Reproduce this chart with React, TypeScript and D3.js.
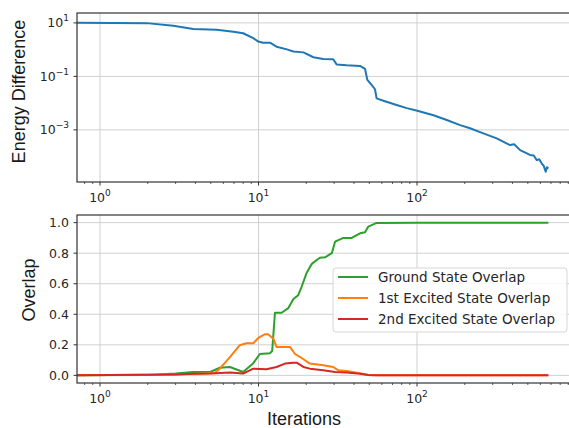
import React, { useEffect, useRef } from 'react';
import * as d3 from 'd3';

// ---- data ----

const energyDiff: [number, number][] = [
  [0.716, 10.2], [1.97, 9.8], [2.9, 7.8], [3.88, 5.95], [5.45, 5.5], [6.94, 4.7],
  [8.0, 4.1], [9.27, 2.7], [9.97, 2.0], [10.7, 1.82], [11.8, 1.82], [13.0, 1.29],
  [15.1, 1.02], [16.6, 0.85], [19.2, 0.79], [22.2, 0.52], [25.6, 0.45], [29.6, 0.44],
  [31.1, 0.28], [36, 0.26], [43.7, 0.245], [47, 0.19], [48.6, 0.074], [51.7, 0.048],
  [54.3, 0.033], [55.6, 0.015], [61.3, 0.0123], [74.4, 0.0085], [86.1, 0.0065],
  [100.4, 0.0052], [127, 0.0035], [154, 0.00234], [187, 0.0015], [216, 0.00115],
  [262, 0.00074], [318, 0.00048], [386, 0.00027], [410, 0.00029], [447, 0.000174],
  [516, 0.000115], [545, 0.00011], [569, 0.000074], [590, 0.00008], [611, 0.000056],
  [630, 0.000045], [648, 0.000027], [660, 0.00004], [674, 0.000036]
];

const groundOverlap: [number, number][] = [
  [0.716, 0], [2, 0.003], [3, 0.012], [3.88, 0.022], [4.95, 0.022], [5.7, 0.05],
  [6.6, 0.055], [8.0, 0.022], [9.27, 0.08], [10.2, 0.14], [11.8, 0.145], [12.2, 0.16],
  [12.7, 0.41], [14.0, 0.41], [15.4, 0.44], [16.6, 0.5], [17.8, 0.525], [18.7, 0.58],
  [20.1, 0.67], [21.7, 0.73], [23.3, 0.755], [24.4, 0.77], [26.3, 0.773], [29, 0.8],
  [30.4, 0.875], [31.9, 0.886], [34.3, 0.9], [38.7, 0.9], [43.7, 0.93], [47, 0.937],
  [49.3, 0.974], [55.6, 0.998], [100, 1.0], [674, 1.0]
];

const firstExcited: [number, number][] = [
  [0.716, 0], [3, 0.005], [4.5, 0.012], [5.3, 0.015], [5.7, 0.044], [6.6, 0.12],
  [7.6, 0.197], [8.4, 0.21], [9.27, 0.21], [9.97, 0.245], [11.0, 0.27], [11.5, 0.27],
  [12.4, 0.24], [13.0, 0.186], [15.8, 0.186], [17.0, 0.14], [18.3, 0.12], [21.1, 0.077],
  [25.6, 0.066], [29.6, 0.055], [31.9, 0.033], [36, 0.028], [41.6, 0.018], [49.3, 0.002],
  [55, 0], [674, 0]
];

const secondExcited: [number, number][] = [
  [0.716, 0], [3, 0.005], [3.88, 0.01], [5, 0.012], [6.6, 0.018], [8.0, 0.012],
  [9.27, 0.044], [11.2, 0.04], [13, 0.055], [14.7, 0.077], [16.6, 0.083], [17.4, 0.083],
  [19.2, 0.055], [21.1, 0.044], [25.6, 0.033], [30.4, 0.022], [36, 0.018], [43.7, 0.011],
  [49.3, 0.002], [55, 0], [674, 0]
];

const xMajor = [1, 10, 100];
const energyExps = [1, -1, -3];
const overlapTicks = [0, 0.2, 0.4, 0.6, 0.8, 1.0];
const legendLabels = ['Ground State Overlap', '1st Excited State Overlap', '2nd Excited State Overlap'];
const overlapSeries = [groundOverlap, firstExcited, secondExcited];
const seriesColors = ['#2ca02c', '#ff7f0e', '#d62728'];

// ====

const W = 569;
const H = 428;
const TICK_FONT = 'DejaVu Sans, sans-serif';
const LABEL_FONT = 'Liberation Sans, Arial, sans-serif';
const INK = '#262626';

const supText = (sel: any, exp: number) => {
  sel.append('tspan').text('10');
  sel.append('tspan')
    .attr('dy', -6)
    .attr('font-size', 9)
    .text(exp < 0 ? `\u2212${-exp}` : `${exp}`);
};

function drawFrame(g: any, x: any, top: number, bottom: number) {
  // vertical grid
  g.selectAll('.vgrid').data(xMajor).enter().append('line')
    .attr('x1', (d: number) => x(d)).attr('x2', (d: number) => x(d))
    .attr('y1', top).attr('y2', bottom)
    .attr('stroke', '#d0d0d0').attr('stroke-width', 1);

  // minor x ticks
  const minors: number[] = [];
  [0.1, 1, 10, 100].forEach((dec) => {
    for (let k = 2; k <= 9; k++) {
      const v = k * dec;
      if (v > x.domain()[0] && v < x.domain()[1]) minors.push(v);
    }
  });
  g.selectAll('.minor').data(minors).enter().append('line')
    .attr('x1', (d: number) => x(d)).attr('x2', (d: number) => x(d))
    .attr('y1', bottom).attr('y2', bottom + 2)
    .attr('stroke', '#333').attr('stroke-width', 0.8);

  // major x ticks + labels
  g.selectAll('.major').data(xMajor).enter().append('line')
    .attr('x1', (d: number) => x(d)).attr('x2', (d: number) => x(d))
    .attr('y1', bottom).attr('y2', bottom + 3.5)
    .attr('stroke', '#333').attr('stroke-width', 1);

  xMajor.forEach((v, i) => {
    const t = g.append('text')
      .attr('x', x(v)).attr('y', bottom + 20)
      .attr('text-anchor', 'middle')
      .attr('font-family', TICK_FONT).attr('font-size', 12.5)
      .attr('fill', INK);
    supText(t, i);
  });
}

function drawSpines(g: any, left: number, right: number, top: number, bottom: number) {
  g.append('rect')
    .attr('x', left).attr('y', top)
    .attr('width', right - left).attr('height', bottom - top)
    .attr('fill', 'none').attr('stroke', '#333').attr('stroke-width', 1.2);
}

const App = () => {
  const node = useRef<SVGSVGElement | null>(null);

  useEffect(() => {
    const svg = d3.select(node.current);
    svg.selectAll('*').remove();

    const left = 77;
    const right = 570;

    // ---- top panel: energy difference ----
    const t0 = 13, t1 = 182;
    const x1 = d3.scaleLog().domain([Math.pow(10, -0.145), Math.pow(10, 2.965)]).range([left, right]);
    const yE = d3.scaleLog().domain([Math.pow(10, -4.95), Math.pow(10, 1.37)]).range([t1, t0]);

    const gTop = svg.append('g');
    gTop.selectAll('.hgrid').data(energyExps).enter().append('line')
      .attr('x1', left).attr('x2', right)
      .attr('y1', (d: number) => yE(Math.pow(10, d))).attr('y2', (d: number) => yE(Math.pow(10, d)))
      .attr('stroke', '#d0d0d0').attr('stroke-width', 1);
    drawFrame(gTop, x1, t0, t1);

    energyExps.forEach((e) => {
      const yy = yE(Math.pow(10, e));
      gTop.append('line').attr('x1', left - 3.5).attr('x2', left)
        .attr('y1', yy).attr('y2', yy).attr('stroke', '#333');
      const t = gTop.append('text')
        .attr('x', left - 8).attr('y', yy + 4.5)
        .attr('text-anchor', 'end')
        .attr('font-family', TICK_FONT).attr('font-size', 12.5)
        .attr('fill', INK);
      supText(t, e);
    });

    const lineE = d3.line<[number, number]>()
      .x((d) => x1(d[0]))
      .y((d) => yE(d[1]));
    gTop.append('path')
      .datum(energyDiff)
      .attr('d', lineE)
      .attr('fill', 'none').attr('stroke', '#1f77b4').attr('stroke-width', 2)
      .attr('stroke-linejoin', 'round');
    drawSpines(gTop, left, right, t0, t1);

    gTop.append('text')
      .attr('transform', `translate(24.5, ${(t0 + t1) / 2 - 6}) rotate(-90)`)
      .attr('text-anchor', 'middle')
      .attr('font-family', LABEL_FONT).attr('font-size', 18)
      .attr('fill', '#1a1a1a')
      .text('Energy Difference');

    // ---- bottom panel: overlaps ----
    const b0 = 215, b1 = 383;
    const x2 = d3.scaleLog().domain(x1.domain()).range([left, right]);
    const yO = d3.scaleLinear().domain([-0.05, 1.05]).range([b1, b0]);

    const gBot = svg.append('g');
    gBot.selectAll('.hgrid').data(overlapTicks).enter().append('line')
      .attr('x1', left).attr('x2', right)
      .attr('y1', (d: number) => yO(d)).attr('y2', (d: number) => yO(d))
      .attr('stroke', '#d0d0d0').attr('stroke-width', 1);
    drawFrame(gBot, x2, b0, b1);

    gBot.selectAll('.ytick').data(overlapTicks).enter().append('line')
      .attr('x1', left - 3.5).attr('x2', left)
      .attr('y1', (d: number) => yO(d)).attr('y2', (d: number) => yO(d))
      .attr('stroke', '#333');
    gBot.selectAll('.ylab').data(overlapTicks).enter().append('text')
      .attr('x', left - 8).attr('y', (d: number) => yO(d) + 4.5)
      .attr('text-anchor', 'end')
      .attr('font-family', TICK_FONT).attr('font-size', 12.5)
      .attr('fill', INK)
      .text((d: number) => d3.format('.1f')(d));

    const lineO = d3.line<[number, number]>()
      .x((d) => x2(d[0]))
      .y((d) => yO(d[1]));
    overlapSeries.forEach((s, i) => {
      gBot.append('path')
        .datum(s)
        .attr('d', lineO)
        .attr('fill', 'none').attr('stroke', seriesColors[i]).attr('stroke-width', 2)
        .attr('stroke-linejoin', 'round');
    });
    drawSpines(gBot, left, right, b0, b1);

    gBot.append('text')
      .attr('transform', `translate(34.5, 290) rotate(-90)`)
      .attr('text-anchor', 'middle')
      .attr('font-family', LABEL_FONT).attr('font-size', 18)
      .attr('fill', '#1a1a1a')
      .text('Overlap');

    gBot.append('text')
      .attr('x', 304).attr('y', 425)
      .attr('text-anchor', 'middle')
      .attr('font-family', LABEL_FONT).attr('font-size', 18)
      .attr('fill', '#1a1a1a')
      .text('Iterations');

    // legend
    const lg = gBot.append('g').attr('transform', 'translate(333, 268)');
    lg.append('rect')
      .attr('width', 234).attr('height', 64).attr('rx', 3)
      .attr('fill', 'white').attr('fill-opacity', 0.85)
      .attr('stroke', '#d6d6d6');
    legendLabels.forEach((lab, i) => {
      const yy = 9 + i * 21;
      lg.append('line')
        .attr('x1', 5).attr('x2', 35).attr('y1', yy).attr('y2', yy)
        .attr('stroke', seriesColors[i]).attr('stroke-width', 2);
      lg.append('text')
        .attr('x', 45).attr('y', yy + 5)
        .attr('font-family', TICK_FONT).attr('font-size', 13.5)
        .attr('fill', INK)
        .text(lab);
    });
  }, []);

  return (
    <svg
      ref={node}
      width={W}
      height={H}
      style={{ position: 'absolute', left: 0, top: 0, background: 'white' }}>
    </svg>
  );
};

export default App;
